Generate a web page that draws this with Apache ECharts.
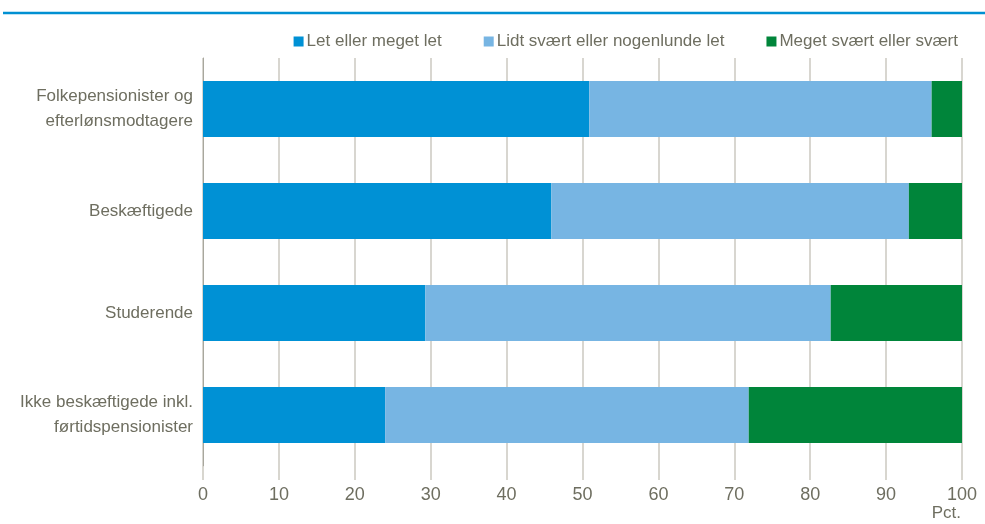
<!DOCTYPE html>
<html>
<head>
<meta charset="utf-8">
<script src="https://cdn.jsdelivr.net/npm/echarts@6/dist/echarts.min.js"></script>
<style>
  html, body { margin: 0; padding: 0; background: #fff; }
  #chart { width: 985px; height: 524px; }
</style>
</head>
<body>
<div id="chart"></div>
<script>
  // data
  var categories = [
    'Folkepensionister og\nefterlønsmodtagere',
    'Beskæftigede',
    'Studerende',
    'Ikke beskæftigede inkl.\nførtidspensionister'
  ];
  var seriesNames = ['Let eller meget let', 'Lidt svært eller nogenlunde let', 'Meget svært eller svært'];
  var letValues = [50.9, 45.9, 29.3, 24.0];
  var lidtValues = [45.1, 47.1, 53.4, 47.9];
  var megetValues = [4.3, 7.0, 17.3, 28.1];
  var xTicks = [0, 10, 20, 30, 40, 50, 60, 70, 80, 90, 100];

  var textColor = '#6e6e60';
  var font = "'Liberation Sans Narrow', 'Arial Narrow', 'Liberation Sans', sans-serif";
  var colors = ['#0091d5', '#77b5e3', '#00853a'];

  var chart = echarts.init(document.getElementById('chart'));

  function makeSeries(name, data, color) {
    return {
      name: name,
      type: 'bar',
      stack: 'total',
      data: data,
      barCategoryGap: '45%',
      itemStyle: { color: color },
      emphasis: { disabled: true }
    };
  }

  chart.setOption({
    animation: false,
    textStyle: { fontFamily: font },
    color: colors,
    graphic: [
      {
        type: 'line',
        shape: { x1: 3, y1: 13, x2: 985, y2: 13 },
        style: { stroke: '#0090d2', lineWidth: 2.5 }
      },
      {
        type: 'text',
        right: 24,
        top: 505,
        style: { text: 'Pct.', fill: textColor, font: '17px ' + font }
      }
    ],
    legend: {
      top: 28,
      right: 22,
      itemWidth: 10,
      itemHeight: 10,
      itemGap: 42,
      icon: 'rect',
      data: seriesNames,
      textStyle: { color: textColor, fontSize: 17, fontFamily: font, padding: [0, 0, 0, -2] }
    },
    grid: { left: 203, right: 23, top: 58, bottom: 58, containLabel: false },
    xAxis: {
      type: 'value',
      min: 0,
      max: 100,
      interval: 10,
      axisLine: { show: false },
      axisTick: { show: true, length: 14, lineStyle: { color: '#cbc9c0', width: 1.5 } },
      splitLine: { show: true, lineStyle: { color: '#cbc9c0', width: 1.5 } },
      axisLabel: {
        color: textColor,
        fontSize: 18,
        margin: 20,
        formatter: function (v) { return xTicks.indexOf(v) >= 0 ? String(v) : ''; }
      }
    },
    yAxis: {
      type: 'category',
      inverse: true,
      data: categories,
      axisLine: { show: true, lineStyle: { color: '#a8a79d', width: 1 } },
      axisTick: { show: false },
      axisLabel: { color: textColor, fontSize: 17, margin: 10, lineHeight: 25, align: 'right' }
    },
    series: [
      makeSeries(seriesNames[0], letValues, colors[0]),
      makeSeries(seriesNames[1], lidtValues, colors[1]),
      makeSeries(seriesNames[2], megetValues, colors[2])
    ]
  });
</script>
</body>
</html>
